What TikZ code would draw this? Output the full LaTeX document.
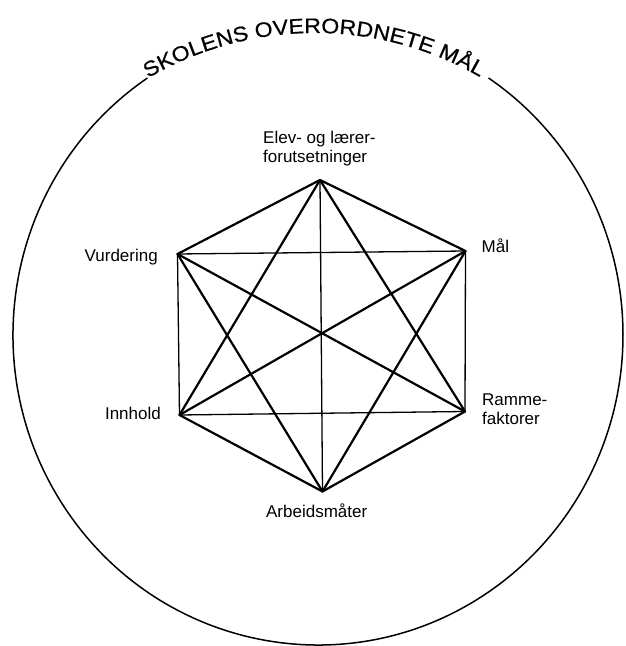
\documentclass[tikz,border=0pt]{standalone}
\usepackage{fontspec}
\setmainfont{Liberation Sans}
\newfontfamily\mytitlefam[FakeStretch=1.1,FakeBold=0.6]{Liberation Sans}
\usetikzlibrary{decorations.text}
\newcommand\mytitlefont{\mytitlefam\fontsize{21}{21}\selectfont}
\begin{document}
\begin{tikzpicture}[x=1pt,y=1pt,
  boldline/.style={line width=2.2pt, line cap=round, line join=round},
  lightline/.style={line width=1.3pt, line cap=round},
  lbl/.style={inner sep=0pt, font=\fontsize{17}{19.5}\selectfont},
  rim/.style={line width=1.5pt}
]
\useasboundingbox (0,0) rectangle (626,646);
% vertices
\coordinate (T) at (320,466);
\coordinate (V) at (177.5,392);
\coordinate (M) at (465.5,395);
\coordinate (I) at (179.5,231);
\coordinate (R) at (465,234.5);
\coordinate (B) at (322.5,154.5);
% outer circle with gap for the title
\draw[rim] (318,311) ++(124:305pt and 310pt) arc[start angle=124, end angle=416, x radius=305pt, y radius=310pt];
% title along arc
\path[decorate, font=\mytitlefont, decoration={text along path,
   text={|\mytitlefont|SKOLENS OVERORDNETE MÅL},
   text align={fit to path}}]
  (315,282) ++(120.3:331pt) arc[start angle=120.3, end angle=60.4, radius=331pt];
% thin (horizontal/vertical) connectors
\draw[lightline] (V) -- (M);
\draw[lightline] (I) -- (R);
\draw[lightline] (V) -- (I);
\draw[lightline] (M) -- (R);
\draw[lightline] (T) -- (B);
% thick slanted connectors
\draw[boldline] (T) -- (M);
\draw[boldline] (T) -- (V);
\draw[boldline] (B) -- (I);
\draw[boldline] (B) -- (R);
\draw[boldline] (T) -- (I);
\draw[boldline] (T) -- (R);
\draw[boldline] (B) -- (V);
\draw[boldline] (B) -- (M);
\draw[boldline] (V) -- (R);
\draw[boldline] (M) -- (I);
% labels
\node[lbl, anchor=base west, align=left] (elev) at (263,483) {Elev- og lærer-\\forutsetninger};
\node[lbl, anchor=base east] (vurd) at (158,384.3) {Vurdering};
\node[lbl, anchor=base west] (maal) at (481.5,393.3) {Mål};
\node[lbl, anchor=base east] (innh) at (161,226) {Innhold};
\node[lbl, anchor=base west, align=left] (ramme) at (482,221) {Ramme-\\faktorer};
\node[lbl, anchor=base] (arb) at (316.7,128.3) {Arbeidsmåter};
\end{tikzpicture}
\end{document}
